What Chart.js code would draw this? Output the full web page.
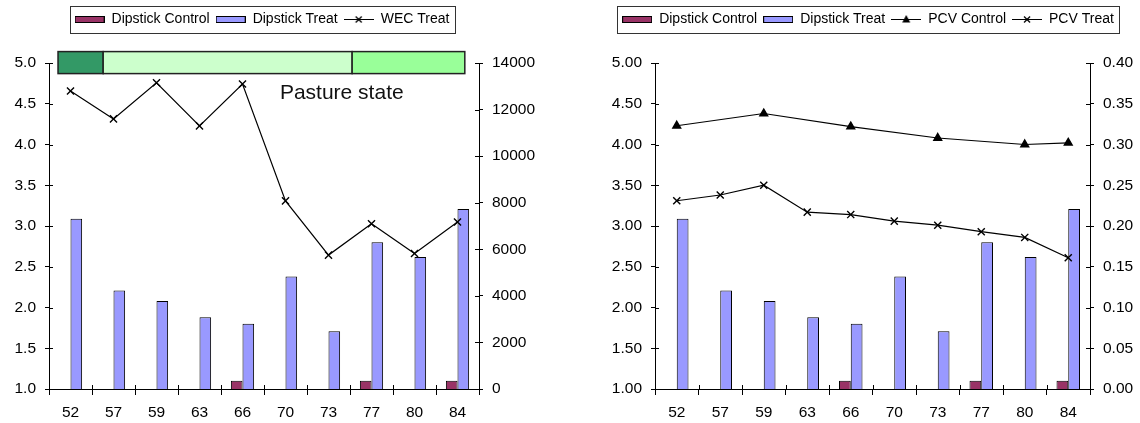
<!DOCTYPE html>
<html>
<head>
<meta charset="utf-8">
<script src="https://cdn.jsdelivr.net/npm/chart.js@4.4.1/dist/chart.umd.min.js"></script>
<style>
  body { margin: 0; background: #fff; }
  .wrap { position: absolute; top: 0; width: 570px; height: 423px; }
</style>
</head>
<body>
<div class="wrap" style="left:0"><canvas id="wecChart" width="570" height="423"></canvas></div>
<div class="wrap" style="left:570px"><canvas id="pcvChart" width="570" height="423"></canvas></div>
<script>
const weeks = ['52', '57', '59', '63', '66', '70', '73', '77', '80', '84'];
const dipstickControl = [1.0, 1.0, 1.0, 1.0, 1.1, 1.0, 1.0, 1.1, 1.0, 1.1];
const dipstickTreat = [3.09, 2.21, 2.08, 1.88, 1.80, 2.38, 1.71, 2.80, 2.62, 3.21];
const wecTreat = [12800, 11600, 13150, 11300, 13100, 8080, 5750, 7100, 5820, 7170];
const pcvControl = [0.323, null, 0.338, null, 0.322, null, 0.308, null, 0.300, 0.302];
const pcvTreat = [0.231, 0.238, 0.250, 0.217, 0.214, 0.206, 0.201, 0.193, 0.186, 0.161];

// pasture state band, in category index units
const pastureStart = [-0.29, 0.76, 6.55];
const pastureEnd = [0.76, 6.55, 9.17];
const pastureColors = ['#339966', '#ccffcc', '#99ff99'];

Chart.defaults.font.family = '"Liberation Sans", Arial, sans-serif';
Chart.defaults.color = '#000';
Chart.defaults.animation = false;

function legendIcon(ds) {
    const c = document.createElement('canvas');
    c.width = 30; c.height = 12;
    const g = c.getContext('2d');
    g.strokeStyle = '#000';
    g.lineWidth = 1;
    if (ds.type === 'line') {
        g.beginPath(); g.moveTo(0, 6.5); g.lineTo(30, 6.5); g.stroke();
        if (ds.pointStyle === 'triangle') {
            g.fillStyle = '#000';
            g.beginPath(); g.moveTo(15, 2); g.lineTo(19, 9.5); g.lineTo(11, 9.5); g.closePath(); g.fill();
        } else {
            g.lineWidth = 1.3;
            g.beginPath(); g.moveTo(12, 3.5); g.lineTo(18, 9.5); g.moveTo(18, 3.5); g.lineTo(12, 9.5); g.stroke();
        }
    } else {
        g.fillStyle = ds.backgroundColor;
        g.fillRect(0.5, 3.5, 29, 6);
        g.strokeRect(0.5, 3.5, 29, 6);
    }
    return c;
}

// legend spacing + box round it
function legendFrame(shift) {
    return {
        id: 'legendFrame',
        beforeInit(chart) {
            const fit = chart.legend.fit;
            chart.legend.fit = function () {
                fit.bind(chart.legend)();
                this.height += 27;
            };
        },
        afterLayout(chart) {
            chart.legend.left += shift;
            chart.legend.right += shift;
        },
        afterDraw(chart) {
            const boxes = chart.legend.legendHitBoxes;
            if (!boxes.length) return;
            const left = Math.min(...boxes.map(b => b.left)) - 5;
            const right = Math.max(...boxes.map(b => b.left + b.width)) + 5;
            const cy = boxes[0].top + 7;
            const ctx = chart.ctx;
            ctx.save();
            ctx.strokeStyle = '#333';
            ctx.lineWidth = 1;
            ctx.strokeRect(Math.round(left) + 0.5, Math.round(cy - 13.5) + 0.5, Math.round(right - left), 27);
            ctx.restore();
        }
    };
}

// ticks that cross the axes
const crossTicks = {
    id: 'crossTicks',
    afterDraw(chart) {
        const {ctx, chartArea: a} = chart;
        ctx.save();
        ctx.strokeStyle = '#000';
        ctx.lineWidth = 1;
        ctx.beginPath();
        const x = chart.scales.x;
        for (let i = 0; i <= weeks.length; i++) {
            const px = Math.round(x.getPixelForValue(i - 0.5)) + 0.5;
            ctx.moveTo(px, a.bottom); ctx.lineTo(px, a.bottom - 4);
        }
        ['y', 'y2'].forEach(id => {
            const s = chart.scales[id];
            const left = s.position === 'left';
            const edge = left ? a.left : a.right;
            s.ticks.forEach(t => {
                const py = Math.round(s.getPixelForValue(t.value)) + 0.5;
                ctx.moveTo(edge, py); ctx.lineTo(edge + (left ? 4 : -4), py);
            });
        });
        ctx.stroke();
        ctx.restore();
    }
};

const pastureBand = {
    id: 'pastureBand',
    afterDraw(chart) {
        const {ctx} = chart;
        const x = chart.scales.x, y = chart.scales.y;
        const top = y.getPixelForValue(5.14), bottom = y.getPixelForValue(4.87);
        ctx.save();
        ctx.strokeStyle = '#222';
        ctx.lineWidth = 1.5;
        pastureStart.forEach((s, i) => {
            const l = x.getPixelForValue(s), r = x.getPixelForValue(pastureEnd[i]);
            ctx.fillStyle = pastureColors[i];
            ctx.fillRect(l, top, r - l, bottom - top);
            ctx.strokeRect(l, top, r - l, bottom - top);
        });
        ctx.fillStyle = '#111';
        ctx.font = '21px "Liberation Sans", Arial, sans-serif';
        ctx.textBaseline = 'middle';
        ctx.fillText('Pasture state', x.getPixelForValue(4.87), y.getPixelForValue(4.63));
        ctx.restore();
    }
};

function barSet(label, data, color) {
    return {
        type: 'bar', label: label, data: data, yAxisID: 'y',
        backgroundColor: color, borderColor: '#000', borderWidth: 1,
        categoryPercentage: 0.54, barPercentage: 1.0
    };
}

function lineSet(label, data, axis, style, radius) {
    return {
        type: 'line', label: label, data: data, yAxisID: axis, order: -1,
        borderColor: '#000', borderWidth: 1.2, pointStyle: style, pointRadius: radius,
        pointBorderColor: '#000', pointBackgroundColor: '#000', pointBorderWidth: 1.4,
        spanGaps: true, tension: 0
    };
}

function chartOptions(yWidth, y2Width, yTicks, y2Ticks) {
    const tickFont = {size: 15.5};
    return {
        responsive: false,
        layout: {padding: {top: 6}},
        plugins: {
            tooltip: {enabled: false},
            legend: {
                position: 'top',
                onClick: null,
                labels: {
                    usePointStyle: true,
                    pointStyleWidth: 30,
                    padding: 6,
                    color: '#000',
                    font: {size: 14},
                    generateLabels: chart => chart.data.datasets.map((ds, i) => ({
                        text: ds.label, datasetIndex: i, pointStyle: legendIcon(ds),
                        fontColor: '#000', lineWidth: 0, hidden: false
                    }))
                }
            }
        },
        scales: {
            x: {
                offset: true,
                grid: {drawOnChartArea: false, tickLength: 6, color: '#000', offset: true},
                border: {color: '#000'},
                ticks: {font: tickFont, padding: 8, maxRotation: 0},
                afterFit: s => { s.height = 34; }
            },
            y: {
                position: 'left',
                min: yTicks.min, max: yTicks.max,
                grid: {drawOnChartArea: false, tickLength: 4, color: '#000'},
                border: {color: '#000'},
                ticks: {font: tickFont, padding: 9, stepSize: yTicks.step, callback: yTicks.fmt},
                afterFit: s => { s.width = yWidth; }
            },
            y2: {
                position: 'right',
                min: y2Ticks.min, max: y2Ticks.max,
                grid: {drawOnChartArea: false, tickLength: 4, color: '#000'},
                border: {color: '#000'},
                ticks: {font: tickFont, padding: 9, stepSize: y2Ticks.step, callback: y2Ticks.fmt},
                afterFit: s => { s.width = y2Width; }
            }
        }
    };
}

new Chart(document.getElementById('wecChart'), {
    data: {
        labels: weeks,
        datasets: [
            barSet('Dipstick Control', dipstickControl, '#993366'),
            barSet('Dipstick Treat', dipstickTreat, '#9999ff'),
            lineSet('WEC Treat', wecTreat, 'y2', 'crossRot', 5)
        ]
    },
    options: chartOptions(49, 91,
        {min: 1, max: 5, step: 0.5, fmt: v => v.toFixed(1)},
        {min: 0, max: 14000, step: 2000, fmt: v => String(v)}),
    plugins: [legendFrame(-23), crossTicks, pastureBand]
});

new Chart(document.getElementById('pcvChart'), {
    data: {
        labels: weeks,
        datasets: [
            barSet('Dipstick Control', dipstickControl, '#993366'),
            barSet('Dipstick Treat', dipstickTreat, '#9999ff'),
            lineSet('PCV Control', pcvControl, 'y2', 'triangle', 4.5),
            lineSet('PCV Treat', pcvTreat, 'y2', 'crossRot', 5)
        ]
    },
    options: chartOptions(85, 50,
        {min: 1, max: 5, step: 0.5, fmt: v => v.toFixed(2)},
        {min: 0, max: 0.4, step: 0.05, fmt: v => v.toFixed(2)}),
    plugins: [legendFrame(13), crossTicks]
});
</script>
</body>
</html>
